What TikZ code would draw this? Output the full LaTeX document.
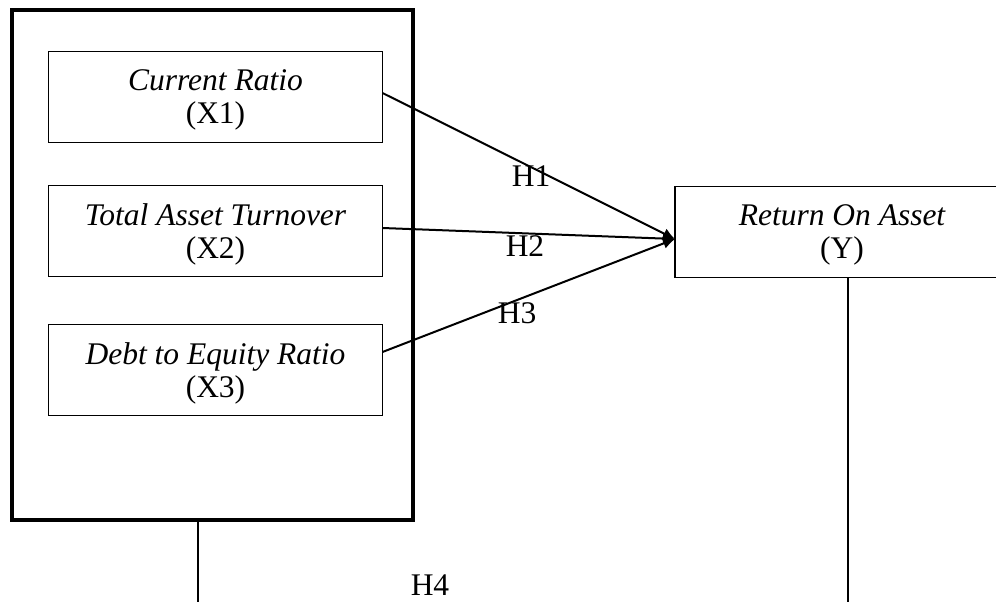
\documentclass[tikz,border=0pt]{standalone}
\usepackage{fontspec}
\setmainfont{Liberation Serif}
\usetikzlibrary{arrows.meta,calc}
\tikzset{
  varbox/.style={draw, line width=1.5pt, rectangle, inner sep=0pt, outer sep=0pt,
    minimum width=334pt, minimum height=91pt},
  vartext/.style={inner sep=0pt, align=center,
    font=\fontsize{31.5}{33}\selectfont},
  bigbox/.style={draw, line width=4.5pt, rectangle, inner sep=0pt, outer sep=0pt,
    minimum width=401pt, minimum height=510pt},
  hyp/.style={draw, line width=2pt, -{Latex[length=12pt,width=11pt]}},
  plain/.style={draw, line width=1.4pt},
  hlabel/.style={anchor=base, inner sep=0pt, font=\fontsize{31.5}{36}\selectfont}
}
\begin{document}
\begin{tikzpicture}[x=1pt,y=-1pt]
\useasboundingbox (0,0) rectangle (996,602);
\clip (0,0) rectangle (996,602);
\node[bigbox] (outer) at (212.5,265) {};
\node[varbox] (x1) at (215.5,97) {};
\node[varbox] (x2) at (215.5,231) {};
\node[varbox] (x3) at (215.5,370) {};
\node[varbox] (y) at (842,232) {};
\node[vartext] (x1t) at ([yshift=-3pt]x1.center) {{\itshape Current Ratio}\\(X1)};
\node[vartext] (x2t) at ([yshift=-3pt]x2.center) {{\itshape Total Asset Turnover}\\(X2)};
\node[vartext] (x3t) at ([yshift=-3pt]x3.center) {{\itshape Debt to Equity Ratio}\\(X3)};
\node[vartext] (yt) at ([yshift=-3pt]y.center) {{\itshape Return On Asset}\\(Y)};
\coordinate (tip) at ([yshift=-7pt]y.west);
\draw[hyp] ([yshift=4pt]x1.east) -- (tip);
\draw[hyp] ([yshift=3pt]x2.east) -- (tip);
\draw[hyp] ([yshift=18pt]x3.east) -- (tip);
\node[hlabel] (h1) at (531,186) {H1};
\node[hlabel] (h2) at (525,256) {H2};
\node[hlabel] (h3) at (517,323) {H3};
\node[hlabel] (h4) at (430,595) {H4};
\coordinate (lend) at (198,602);
\coordinate (rend) at (848,602);
\draw[plain] (outer.south -| lend) -- (lend);
\draw[plain] (y.south -| rend) -- (rend);
\end{tikzpicture}
\end{document}
